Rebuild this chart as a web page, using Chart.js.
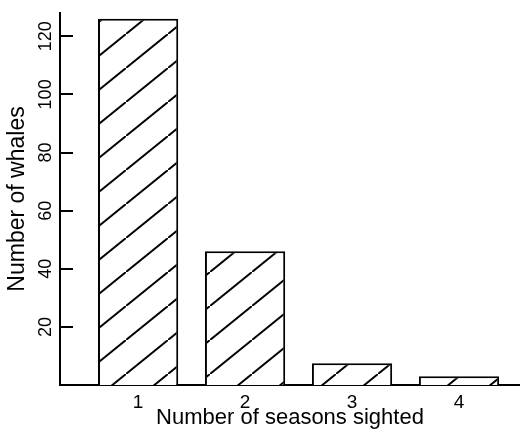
<!DOCTYPE html>
<html>
<head>
<meta charset="utf-8">
<script src="https://cdn.jsdelivr.net/npm/chart.js@4.4.0/dist/chart.umd.min.js"></script>
<style>
  html, body { margin: 0; padding: 0; background: #fff; }
  #contenedor { width: 520px; height: 434px; }
</style>
</head>
<body>
<div id="contenedor"><canvas id="grafico"></canvas></div>
<script>
// Datos
const temporadas = [1, 2, 3, 4];
const etiquetasX = ['1', '2', '3', '4'];
const ballenas = [126, 46, 7.5, 3];
const ticksY = [20, 40, 60, 80, 100, 120];

// Rayado diagonal de las barras
function rayado(ctx) {
  const c = document.createElement('canvas');
  c.width = 42; c.height = 34;
  const g = c.getContext('2d');
  g.fillStyle = '#fff';
  g.fillRect(0, 0, 42, 34);
  g.strokeStyle = '#000';
  g.lineWidth = 2;
  g.beginPath();
  g.moveTo(-42, 68);
  g.lineTo(84, -34);
  g.stroke();
  return ctx.createPattern(c, 'repeat');
}

// Marcas del eje Y hacia dentro
const marcasY = {
  id: 'marcasY',
  afterDraw(chart) {
    const ctx = chart.ctx;
    const y = chart.scales.y;
    ctx.save();
    ctx.strokeStyle = '#000';
    ctx.lineWidth = 2;
    ticksY.forEach(v => {
      const py = Math.round(y.getPixelForValue(v));
      ctx.beginPath();
      ctx.moveTo(y.right, py);
      ctx.lineTo(y.right + 13, py);
      ctx.stroke();
    });
    ctx.restore();
  }
};

const fuente = "'Liberation Sans', Arial, sans-serif";

let ctx = document.getElementById('grafico').getContext('2d');
let grafico = new Chart(ctx, {
  type: 'bar',
  data: {
    datasets: [{
      label: 'Number of whales',
      data: temporadas.map((t, i) => ({ x: t, y: ballenas[i] })),
      backgroundColor: rayado(ctx),
      borderColor: '#000',
      borderWidth: 2,
      barPercentage: 0.75,
      categoryPercentage: 1
    }]
  },
  options: {
    responsive: true,
    maintainAspectRatio: false,
    animation: false,
    layout: { padding: { top: 13, left: 0, right: 0, bottom: 0 } },
    plugins: {
      legend: { display: false },
      tooltip: { enabled: false }
    },
    scales: {
      x: {
        type: 'linear',
        offset: false,
        min: 0.27,
        max: 4.57,
        afterBuildTicks: (scale) => { scale.ticks = temporadas.map(v => ({ value: v })); },
        afterFit: (scale) => { scale.height = 49; },
        grid: { display: false },
        border: { display: true, color: '#000', width: 2 },
        ticks: {
          color: '#000',
          padding: -2,
          maxRotation: 0,
          font: { family: fuente, size: 19 },
          callback: (v) => etiquetasX[temporadas.indexOf(v)]
        },
        title: {
          display: true,
          text: 'Number of seasons sighted',
          color: '#000',
          padding: { top: 0, bottom: 3 },
          font: { family: fuente, size: 22 }
        }
      },
      y: {
        min: 0,
        max: 128,
        afterBuildTicks: (scale) => { scale.ticks = ticksY.map(v => ({ value: v })); },
        afterFit: (scale) => { scale.width = 60; },
        grid: { display: false },
        border: { display: true, color: '#000', width: 2 },
        ticks: {
          color: '#000',
          padding: -9,
          minRotation: 90,
          maxRotation: 90,
          crossAlign: 'center',
          font: { family: fuente, size: 18 }
        },
        title: {
          display: true,
          text: 'Number of whales',
          color: '#000',
          padding: { top: 4, bottom: 0 },
          font: { family: fuente, size: 23 }
        }
      }
    }
  },
  plugins: [marcasY]
});
</script>
</body>
</html>
